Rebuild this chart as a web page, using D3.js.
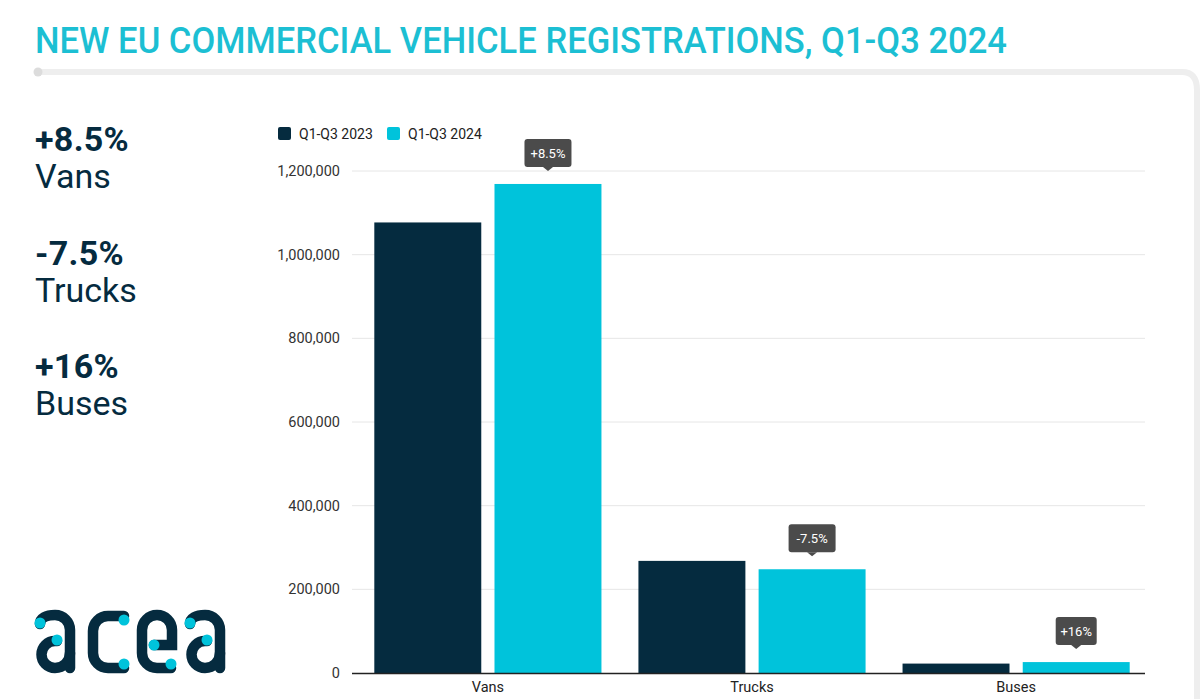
<!DOCTYPE html>
<html><head><meta charset="utf-8">
<script src="https://cdn.jsdelivr.net/npm/d3@7"></script>
<style>body{margin:0;background:#fff}svg{display:block;font-family:Roboto,"Noto Sans",sans-serif}</style>
</head><body><svg id="c" width="1200" height="699"></svg>
<script>
const categories = ["Vans", "Trucks", "Buses"];
const seriesNames = ["Q1-Q3 2023", "Q1-Q3 2024"];
const values2023 = [1077000, 268000, 22500];
const values2024 = [1169000, 248000, 26100];
const changeLabels = ["+8.5%", "-7.5%", "+16%"];
const yTicks = [0, 200000, 400000, 600000, 800000, 1000000, 1200000];
const sideStats = [["+8.5%", "Vans"], ["-7.5%", "Trucks"], ["+16%", "Buses"]];

const NAVY = "#052b3f", CYAN = "#00c3db", TITLE = "#1cbfd3";
const svg = d3.select("#c");

// title
svg.append("text").attr("x", 35).attr("y", 53).attr("font-size", 36).attr("font-weight", 500)
  .attr("fill", TITLE).attr("textLength", 972).attr("lengthAdjust", "spacingAndGlyphs")
  .text("NEW EU COMMERCIAL VEHICLE REGISTRATIONS, Q1-Q3 2024");
svg.append("path").attr("d", "M38,72 H1182 Q1197,72 1197,90 V699")
  .attr("fill", "none").attr("stroke", "#eeeeee").attr("stroke-width", 6).attr("stroke-linecap", "round");
svg.append("circle").attr("cx", 38).attr("cy", 72).attr("r", 4.5).attr("fill", "#dcdcdc");

// side stats
sideStats.forEach((s, i) => {
  const y0 = 151 + i * 113.5;
  svg.append("text").attr("x", 35).attr("y", y0).attr("font-size", 34).attr("font-weight", 700)
    .attr("fill", NAVY).attr("letter-spacing", 0.3).text(s[0]);
  svg.append("text").attr("x", 35).attr("y", y0 + 37).attr("font-size", 34).attr("font-weight", 400)
    .attr("fill", NAVY).text(s[1]);
});

// chart
const y = d3.scaleLinear().domain([0, 1200000]).range([673, 171]);
const x0 = d3.scaleBand().domain(categories).range([354.5, 1149.5]).paddingInner(0.14).paddingOuter(0.075);
const x1 = d3.scaleBand().domain(seriesNames).range([0, x0.bandwidth()]).paddingInner(0.11);
const g = svg.append("g");

g.selectAll(".grid").data(yTicks.slice(1)).join("line")
  .attr("x1", 352).attr("x2", 1145).attr("y1", d => y(d)).attr("y2", d => y(d))
  .attr("stroke", "#e6e6e6").attr("stroke-width", 1);

const yAxis = g.append("g").attr("transform", "translate(352,0)")
  .call(d3.axisLeft(y).tickValues(yTicks).tickFormat(d3.format(",")).tickSize(0).tickPadding(12));
yAxis.select(".domain").remove();
yAxis.selectAll("text").attr("font-size", 14.5).attr("fill", "#333").attr("font-family", "Roboto");

const data = categories.map((c, i) => ({c, vals: [values2023[i], values2024[i]]}));
const colors = [NAVY, CYAN];
const grp = g.selectAll(".grp").data(data).join("g").attr("transform", d => `translate(${x0(d.c)},0)`);
grp.selectAll("rect").data(d => d.vals.map((v, j) => ({v, j}))).join("rect")
  .attr("x", d => x1(seriesNames[d.j])).attr("width", x1.bandwidth())
  .attr("y", d => y(d.v)).attr("height", d => y(0) - y(d.v)).attr("fill", d => colors[d.j]);

const xAxis = g.append("g").attr("transform", "translate(0,673)")
  .call(d3.axisBottom(x0).tickSize(0).tickPadding(9));
xAxis.select(".domain").attr("d", "M352,0.5H1145").attr("stroke", "#222").attr("stroke-width", 1.5);
xAxis.selectAll("text").attr("font-size", 14.5).attr("fill", "#222").attr("font-family", "Roboto");

// annotations
data.forEach((d, i) => {
  const cx = x0(d.c) + x1(seriesNames[1]) + x1.bandwidth() / 2;
  const tip = y(d.vals[1]) - 13;
  const label = changeLabels[i];
  const w = label.length > 4 ? 47 : 41, h = 28;
  const top = tip - 4 - h;
  svg.append("rect").attr("x", cx - w / 2).attr("y", top).attr("width", w).attr("height", h)
    .attr("rx", 3).attr("fill", "#4b4b4b");
  svg.append("path").attr("d", `M${cx - 5},${top + h} L${cx},${tip} L${cx + 5},${top + h} Z`).attr("fill", "#4b4b4b");
  svg.append("text").attr("x", cx).attr("y", top + 19).attr("text-anchor", "middle")
    .attr("font-size", 13).attr("fill", "#fff").text(label);
});

// legend
const leg = svg.append("g").attr("transform", "translate(278,127)");
seriesNames.forEach((s, i) => {
  const lx = i * 109;
  leg.append("rect").attr("x", lx).attr("y", 0).attr("width", 13).attr("height", 13).attr("rx", 2).attr("fill", colors[i]);
  leg.append("text").attr("x", lx + 21).attr("y", 12).attr("font-size", 14).attr("fill", "#222").text(s);
});

// logo
const logo = svg.append("g").attr("fill", "none").attr("stroke", NAVY).attr("stroke-width", 10.5).attr("stroke-linecap", "round");
const aPaths = ["M40,624 C40,618 46,615 55,615 A15,15 0 0 1 70,630 V668", "M57,641 H55 A13.5,13.5 0 0 0 55,668 A15,15 0 0 0 70,653"];
[0, 150].forEach(dx => aPaths.forEach(p => logo.append("path").attr("d", p).attr("transform", `translate(${dx},0)`)));
logo.append("path").attr("d", "M124,616 H108 A15,15 0 0 0 93,631 V653 A15,15 0 0 0 108,668 H124");
logo.append("path").attr("d", "M154,645 H172 V630 A15,15 0 0 0 142,630 V653 A15,15 0 0 0 157,668 H171");
const dots = [[40, 623], [57, 640], [124, 620], [124, 664], [154, 645], [171, 664], [190, 623], [207, 640]];
svg.selectAll(".dot").data(dots).join("circle").attr("cx", d => d[0]).attr("cy", d => d[1]).attr("r", 5.5).attr("fill", CYAN);
</script></body></html>
